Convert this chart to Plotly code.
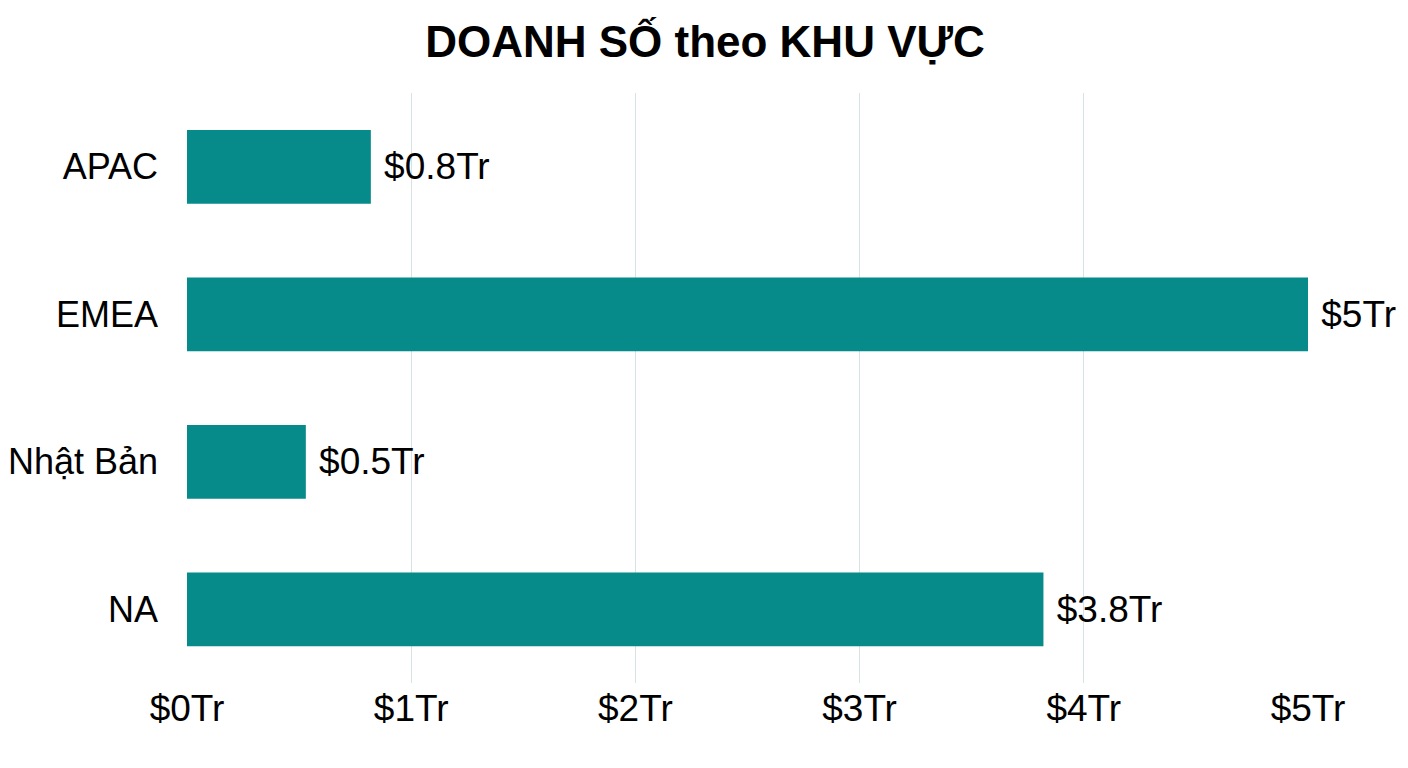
import plotly.graph_objects as go

regions = ["APAC", "EMEA", "Nhật Bản", "NA"]
sales_tr = [0.82, 5.0, 0.53, 3.82]
tick_vals = [0, 1, 2, 3, 4, 5]
tick_text = ["$0Tr", "$1Tr", "$2Tr", "$3Tr", "$4Tr", "$5Tr"]


def fmt(v):
    s = f"{v:.1f}"
    if s.endswith(".0"):
        s = s[:-2]
    return f" ${s}Tr"


bar_labels = [fmt(v) for v in sales_tr]

FONT = "Liberation Sans, Arial, sans-serif"

fig = go.Figure(go.Bar(
    y=regions, x=sales_tr, orientation="h",
    marker=dict(color="#078a8a", line=dict(width=0)),
    text=bar_labels, textposition="outside",
    textfont=dict(size=37, color="#000000", family=FONT),
    cliponaxis=False, width=0.5,
))

fig.update_layout(
    width=1408, height=768,
    paper_bgcolor="white", plot_bgcolor="white",
    margin=dict(l=179, r=108, t=85, b=93),
    font=dict(family=FONT, color="#000000"),
    title=dict(text="<b>DOANH SỐ theo KHU VỰC</b>", x=0.495, xanchor="center",
               y=0.956, yanchor="middle", font=dict(size=44, color="#000000")),
    showlegend=False,
    xaxis=dict(range=[0, 5], tickvals=tick_vals, ticktext=tick_text,
               showgrid=True, gridcolor="#d6e2e6", gridwidth=1,
               zeroline=False, showline=False, automargin=False,
               tickfont=dict(size=37), ticklabelstandoff=0),
    yaxis=dict(categoryorder="array", categoryarray=regions,
               range=[3.5, -0.5], showgrid=False, zeroline=False,
               automargin=False,
               tickfont=dict(size=36), ticklabelstandoff=28),
)

fig.write_html("out.html")
